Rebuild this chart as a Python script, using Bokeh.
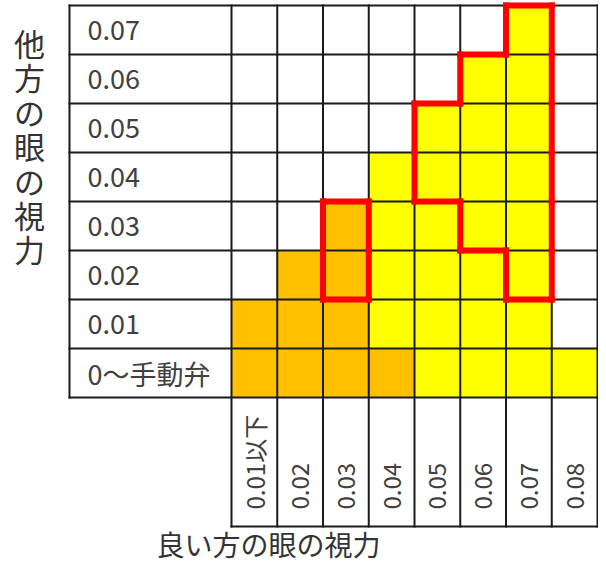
import math
from bokeh.plotting import figure
from bokeh.models import Range1d
from bokeh.embed import file_html
from bokeh.resources import INLINE
from bokeh.core.properties import value

# ---------------- data ----------------
col_labels = ["0.01以下", "0.02", "0.03", "0.04", "0.05", "0.06", "0.07", "0.08"]
row_labels = ["0〜手動弁", "0.01", "0.02", "0.03", "0.04", "0.05", "0.06", "0.07"]  # bottom -> top
# grade of each cell, one string per row (bottom -> top), one char per column
cell_grades = [
    "OOOOYYYY",
    "OOOYYYY.",
    ".OOYYYY.",
    "..OYYYY.",
    "...YYYY.",
    "....YYY.",
    ".....YY.",
    "......Y.",
]
# red-outlined regions: column -> (lowest row, highest row)
outline_a = {"0.03": ("0.02", "0.03")}
outline_b = {"0.05": ("0.04", "0.05"), "0.06": ("0.03", "0.06"), "0.07": ("0.02", "0.07")}
x_title = "良い方の眼の視力"
y_title = "他方の眼の視力"

grade_colors = {"O": "#FFC000", "Y": "#FFFF00"}

# ---------------- layout helpers ----------------
W, H = 598, 562
CW, RH = 45.75, 49.0      # pixel size of one cell
X0, Y0 = 231.0, 397.0     # pixel position of grid origin (bottom-left of first cell)


def px2x(px):
    return (px - X0) / CW


def px2y(py):
    return (Y0 - py) / RH


FONT = value("Noto Sans CJK JP")

p = figure(width=W, height=H, output_backend="svg", toolbar_location=None,
           x_range=Range1d(px2x(0), px2x(W)), y_range=Range1d(px2y(H), px2y(0)),
           min_border=0, outline_line_color=None, tools="")
p.axis.visible = False
p.grid.visible = False
p.background_fill_color = "white"
p.border_fill_color = "white"
p.styles = {"margin-right": "-8px", "margin-bottom": "-8px"}

ncol, nrow = len(col_labels), len(row_labels)

# ---------------- coloured cells ----------------
left, right, bottom, top, colors = [], [], [], [], []
for ri, rowstr in enumerate(cell_grades):
    for ci, g in enumerate(rowstr):
        if g in grade_colors:
            left.append(ci); right.append(ci + 1)
            bottom.append(ri); top.append(ri + 1)
            colors.append(grade_colors[g])
p.quad(left=left, right=right, bottom=bottom, top=top, fill_color=colors, line_color=None)

# ---------------- black table lines ----------------
label_left = px2x(69)
label_bottom = px2y(526)
xs, ys = [], []
for r in range(nrow + 1):
    xs.append([label_left, ncol]); ys.append([r, r])
xs.append([label_left, label_left]); ys.append([0, nrow])
for c in range(ncol + 1):
    xs.append([c, c]); ys.append([label_bottom, nrow])
xs.append([0, ncol]); ys.append([label_bottom, label_bottom])
p.multi_line(xs=xs, ys=ys, line_color="#1a1a1a", line_width=2, line_cap="square")

# ---------------- red outlines ----------------
def outline_segments(region):
    cells = set()
    for col, (lo, hi) in region.items():
        ci = col_labels.index(col)
        for ri in range(row_labels.index(lo), row_labels.index(hi) + 1):
            cells.add((ci, ri))
    sx, sy = [], []
    for (ci, ri) in cells:
        if (ci, ri - 1) not in cells:
            sx.append([ci, ci + 1]); sy.append([ri, ri])
        if (ci, ri + 1) not in cells:
            sx.append([ci, ci + 1]); sy.append([ri + 1, ri + 1])
        if (ci - 1, ri) not in cells:
            sx.append([ci, ci]); sy.append([ri, ri + 1])
        if (ci + 1, ri) not in cells:
            sx.append([ci + 1, ci + 1]); sy.append([ri, ri + 1])
    return sx, sy


for region in (outline_a, outline_b):
    sx, sy = outline_segments(region)
    p.multi_line(xs=sx, ys=sy, line_color="#FF0000", line_width=6, line_cap="square")

# ---------------- texts ----------------
p.text(x=[px2x(87)] * nrow, y=[r + 0.5 for r in range(nrow)], text=row_labels,
       text_font=FONT, text_font_size="27px", text_align="left",
       text_baseline="middle", text_color="#404040")

p.text(x=[c + 0.5 for c in range(ncol)], y=[px2y(509)] * ncol, text=col_labels,
       angle=math.pi / 2, text_font=FONT, text_font_size="24px", text_align="left",
       text_baseline="middle", text_color="#404040")

chars = list(y_title)
p.text(x=[px2x(29)] * len(chars), y=[px2y(42 + i * 34.4) for i in range(len(chars))],
       text=chars, text_font=FONT, text_font_size="31px", text_align="center",
       text_baseline="middle", text_color="#333333")

p.text(x=[px2x(268)], y=[px2y(543)], text=[x_title], text_font=FONT,
       text_font_size="28px", text_align="center", text_baseline="middle",
       text_color="#333333")

open("out.html", "w").write(file_html(p, INLINE))
